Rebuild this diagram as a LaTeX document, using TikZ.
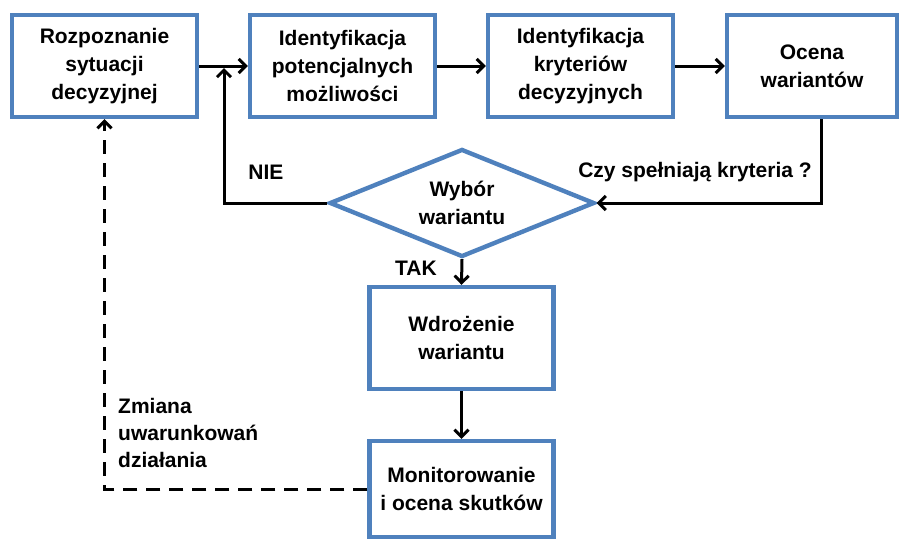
\documentclass[tikz,border=0pt]{standalone}
\usepackage{fontspec}
\setmainfont{Liberation Sans}
\usetikzlibrary{shapes.geometric,arrows.meta}
\definecolor{boxblue}{HTML}{4F81BD}
\tikzset{
  stepbox/.style={draw=boxblue, line width=4.4pt, fill=white, align=center,
    font=\bfseries\fontsize{21}{28}\selectfont, inner sep=0pt},
  decision/.style={diamond, draw=boxblue, line width=4.4pt, fill=white, align=center,
    font=\bfseries\fontsize{21}{28}\selectfont, inner sep=0pt, aspect=2.45,
    minimum width=265pt, minimum height=108pt},
  lbl/.style={font=\bfseries\fontsize{21}{28}\selectfont, inner sep=0pt},
  arr/.style={line width=3pt, -{Straight Barb[length=7pt,width=14pt,line width=3pt]}},
  dasharr/.style={line width=3pt, dash pattern=on 14pt off 9pt,
    -{Straight Barb[length=7pt,width=14pt,line width=3pt]}}
}
\begin{document}
\begin{tikzpicture}[x=1pt,y=-1pt]
\useasboundingbox (0,0) rectangle (906,542);
\node[stepbox, minimum width=185pt, minimum height=102pt] (b1) at (104.5,66) {Rozpoznanie\\sytuacji\\decyzyjnej};
\node[stepbox, minimum width=185pt, minimum height=102pt] (b2) at (342.5,66) {Identyfikacja\\potencjalnych\\możliwości};
\node[stepbox, minimum width=185pt, minimum height=102pt] (b3) at (580.5,66) {Identyfikacja\\kryteriów\\decyzyjnych};
\node[stepbox, minimum width=170pt, minimum height=102pt] (b4) at (812,66) {Ocena\\wariantów};
\node[decision] (dia) at (462,203) {Wybór\\wariantu};
\node[stepbox, minimum width=184pt, minimum height=102pt] (b5) at (461.5,338) {Wdrożenie\\wariantu};
\node[stepbox, minimum width=184pt, minimum height=96pt] (b6) at (461.5,489) {Monitorowanie\\i ocena skutków};

\coordinate (join) at (224,68);
\coordinate (rside) at (821,203);

\draw[arr] (b1.east) -- (b2.west);
\draw[arr] (b2.east) -- (b3.west);
\draw[arr] (b3.east) -- (b4.west);
\draw[arr] (b4.south -| rside) -- (rside) -- (dia.east);
\draw[arr] (dia.west) -| (join);
\draw[arr] (dia.south) -- (b5.north);
\draw[arr] (b5.south) -- (b6.north);
\draw[dasharr] (b6.west) -| (b1.south);

\node[lbl] (nie) at (266,172) {NIE};
\node[lbl] (czy) at (695,172) {Czy spełniają kryteria ?};
\node[lbl] (tak) at (416,268) {TAK};
\node[lbl, align=left, anchor=north west, font=\bfseries\fontsize{21}{27}\selectfont] (zm) at (118,398) {Zmiana\\uwarunkowań\\działania};
\end{tikzpicture}
\end{document}
